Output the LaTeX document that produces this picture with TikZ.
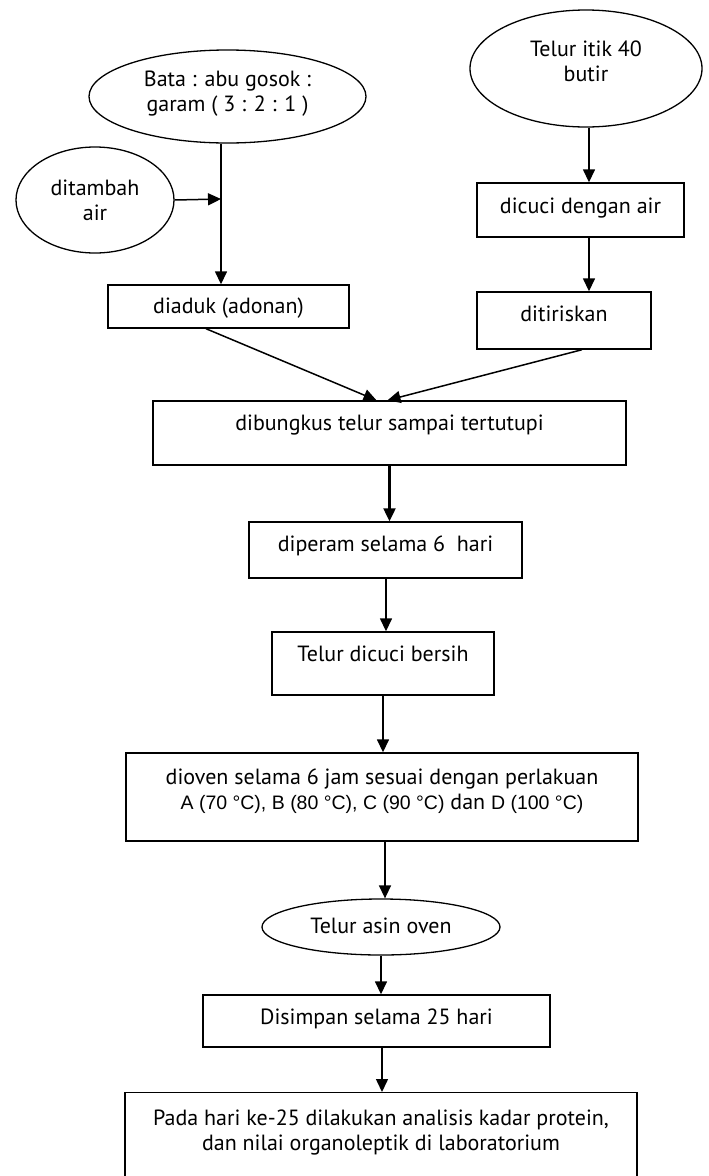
\documentclass[tikz,border=0pt]{standalone}
\usepackage{fontspec}
\setmainfont{PT Sans}
\newfontfamily\arialf{Liberation Sans}
\usetikzlibrary{shapes.geometric,arrows.meta,calc}
\begin{document}
\begin{tikzpicture}[x=1pt,y=-1pt,
  txt/.style={align=center, font=\fontsize{22}{25}\selectfont, text height=16.5pt, text depth=5.5pt, inner sep=0pt},
  box/.style={txt, draw, line width=1.4pt, rectangle},
  oval/.style={txt, draw, line width=1.3pt, ellipse},
  arr/.style={line width=1.5pt, -{Triangle[length=13pt,width=12pt]}},
  thickarr/.style={line width=2.2pt, -{Triangle[length=13pt,width=12pt]}}]
\useasboundingbox (0,0) rectangle (709,1176);
\clip (0,0) rectangle (709,1176);

\node[oval, minimum width=277pt, minimum height=93pt, text height=35.5pt] (bata) at (227.5,96.5) {Bata : abu gosok :\\garam ( 3 : 2 : 1 )};
\node[oval, minimum width=232pt, minimum height=117pt, text height=31.5pt] (itik) at (586,68.5) {Telur itik 40\\butir};
\node[oval, minimum width=158pt, minimum height=106pt, text height=46.5pt] (tambah) at (95,200) {ditambah\\air};
\node[box, minimum width=241pt, minimum height=43pt, text depth=2.5pt] (aduk) at (228.5,306.5) {diaduk (adonan)};
\node[box, minimum width=207pt, minimum height=54pt, text depth=9.5pt] (cuci) at (580.5,210) {dicuci dengan air};
\node[box, minimum width=174pt, minimum height=57pt, text depth=14.5pt] (tiris) at (564,320.5) {ditiriskan};
\node[box, minimum width=473pt, minimum height=64pt, text depth=21.5pt] (bungkus) at (389.5,433) {dibungkus telur sampai tertutupi};
\node[box, minimum width=273pt, minimum height=56pt, text depth=13.5pt] (peram) at (385.5,550) {diperam selama 6~ hari};
\node[box, minimum width=222pt, minimum height=63pt, text depth=20.5pt] (bersih) at (383,663.5) {Telur dicuci bersih};
\node[box, minimum width=512pt, minimum height=88pt, text height=30.5pt] (oven) at (382,797) {dioven selama 6 jam sesuai dengan perlakuan\\{\arialf\fontsize{19.5}{25}\selectfont A (70 °C), B (80 °C), C (90 °C)} dan {\arialf\fontsize{19.5}{25}\selectfont D (100 °C)}};
\node[oval, minimum width=238pt, minimum height=56pt, text depth=3.5pt] (asin) at (381,927) {Telur asin oven};
\node[box, minimum width=347pt, minimum height=52pt, text depth=9.5pt] (simpan) at (376.5,1021) {Disimpan selama 25 hari};
\node[box, anchor=north, minimum width=512pt, inner ysep=18pt, text depth=60pt, text height=39.5pt] (pada) at (381,1092) {Pada hari ke-25 dilakukan analisis kadar protein,\\dan nilai organoleptik di laboratorium};

\coordinate (jn) at (221,199);
\draw[arr] ([xshift=-6.5pt]bata.south) -- ([xshift=-6.5pt]bata.south |- aduk.north);
\draw[arr] (tambah.east) -- (jn);
\draw[arr] ([xshift=3pt]itik.south) -- ([xshift=3pt]itik.south |- cuci.north);
\draw[arr] ([xshift=8.5pt]cuci.south) -- ([xshift=8.5pt]cuci.south |- tiris.north);
\draw[arr] ([xshift=-22.5pt]aduk.south) -- ([xshift=-13pt]bungkus.north);
\draw[arr] ([xshift=18pt]tiris.south) -- ([xshift=-2pt]bungkus.north);
\draw[thickarr] (bungkus.south) -- (bungkus.south |- peram.north);
\draw[arr] ([xshift=0.5pt]peram.south) -- ([xshift=0.5pt]peram.south |- bersih.north);
\draw[arr] (bersih.south) -- (bersih.south |- oven.north);
\draw[arr] ([xshift=3pt]oven.south) -- ([xshift=3pt]oven.south |- asin.north);
\draw[arr] (asin.south) -- (asin.south |- simpan.north);
\draw[arr] ([xshift=5.5pt]simpan.south) -- ([xshift=5.5pt]simpan.south |- pada.north);
\end{tikzpicture}
\end{document}
